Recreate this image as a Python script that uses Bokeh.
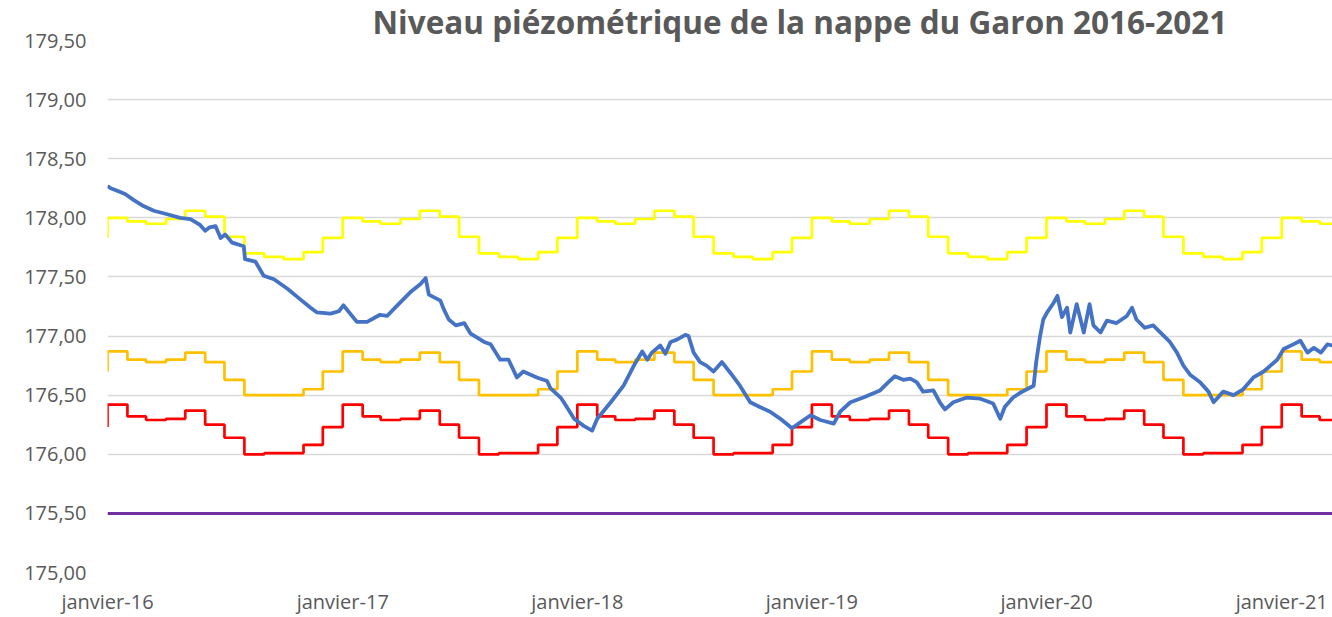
import pandas as pd
from bokeh.plotting import figure
from bokeh.models import (Range1d, FixedTicker, CustomJSTickFormatter, Span, Title,
                          ColumnDataSource)
from bokeh.embed import file_html
from bokeh.resources import INLINE

# ---------------- data ----------------
title_text = "Niveau piézométrique de la nappe du Garon 2016-2021"

x_tick_dates = ["2016-01-01", "2017-01-01", "2018-01-01", "2019-01-01", "2020-01-01", "2021-01-01"]
x_tick_labels = ["janvier-16", "janvier-17", "janvier-18", "janvier-19", "janvier-20", "janvier-21"]
y_ticks = [175.0, 175.5, 176.0, 176.5, 177.0, 177.5, 178.0, 178.5, 179.0, 179.5]

# monthly threshold levels (janvier .. décembre), repeated every year
yellow_monthly = [178.00, 177.97, 177.95, 177.99, 178.06, 178.01, 177.84, 177.70, 177.67, 177.65, 177.71, 177.83]
orange_monthly = [176.87, 176.80, 176.78, 176.80, 176.86, 176.78, 176.63, 176.50, 176.50, 176.50, 176.55, 176.70]
red_monthly = [176.42, 176.32, 176.29, 176.30, 176.37, 176.25, 176.14, 176.00, 176.01, 176.01, 176.08, 176.23]
purple_level = 175.50

series_start = "2016-01-01"
series_end = "2021-03-21"

blue_dates = [
    "2016-01-01", "2016-01-06", "2016-01-11", "2016-01-20", "2016-01-29", "2016-02-11", "2016-02-26",
    "2016-03-13", "2016-04-03", "2016-04-23", "2016-05-09", "2016-05-24", "2016-06-01", "2016-06-08",
    "2016-06-17", "2016-06-25", "2016-07-02", "2016-07-13", "2016-07-31", "2016-08-02", "2016-08-18",
    "2016-08-31", "2016-09-16", "2016-10-07", "2016-10-27", "2016-11-12", "2016-11-22", "2016-12-13",
    "2016-12-26", "2017-01-02", "2017-01-23", "2017-02-08", "2017-02-28", "2017-03-11", "2017-03-27",
    "2017-04-16", "2017-05-02", "2017-05-10", "2017-05-15", "2017-06-02", "2017-06-07", "2017-06-15",
    "2017-06-26", "2017-07-09", "2017-07-19", "2017-08-09", "2017-08-19", "2017-09-03", "2017-09-16",
    "2017-09-29", "2017-10-09", "2017-10-30", "2017-11-15", "2017-11-20", "2017-12-06", "2017-12-11",
    "2017-12-27", "2018-01-11", "2018-01-24", "2018-02-01", "2018-02-22", "2018-03-14", "2018-03-30",
    "2018-04-12", "2018-04-20", "2018-04-27", "2018-05-10", "2018-05-18", "2018-05-26", "2018-06-05",
    "2018-06-18", "2018-06-23", "2018-07-01", "2018-07-11", "2018-07-21", "2018-08-01", "2018-08-14",
    "2018-08-27", "2018-09-11", "2018-09-27", "2018-10-12", "2018-10-28", "2018-11-13", "2018-12-01",
    "2018-12-14", "2018-12-30", "2019-01-14", "2019-02-04", "2019-02-14", "2019-03-02", "2019-03-22",
    "2019-04-17", "2019-05-02", "2019-05-10", "2019-05-23", "2019-06-03", "2019-06-13", "2019-06-23",
    "2019-07-09", "2019-07-19", "2019-07-27", "2019-08-09", "2019-08-30", "2019-09-20", "2019-10-10",
    "2019-10-21", "2019-10-28", "2019-11-10", "2019-11-21", "2019-12-12", "2019-12-16", "2019-12-22",
    "2019-12-27", "2020-01-02", "2020-01-12", "2020-01-18", "2020-01-25", "2020-02-02", "2020-02-07",
    "2020-02-17", "2020-02-28", "2020-03-08", "2020-03-14", "2020-03-25", "2020-04-04", "2020-04-19",
    "2020-05-05", "2020-05-13", "2020-05-20", "2020-06-02", "2020-06-15", "2020-06-28", "2020-07-11",
    "2020-07-22", "2020-08-01", "2020-08-12", "2020-08-27", "2020-09-09", "2020-09-17", "2020-10-02",
    "2020-10-18", "2020-11-02", "2020-11-18", "2020-12-04", "2020-12-25", "2021-01-04", "2021-01-19",
    "2021-01-30", "2021-02-10", "2021-02-20", "2021-03-03", "2021-03-13", "2021-03-21",
]
blue_values = [
    178.27, 178.25, 178.24, 178.22, 178.20, 178.15, 178.10,
    178.06, 178.03, 178.00, 177.99, 177.94, 177.89, 177.92,
    177.93, 177.83, 177.86, 177.79, 177.76, 177.65, 177.63,
    177.51, 177.48, 177.40, 177.31, 177.24, 177.20, 177.19,
    177.21, 177.26, 177.12, 177.12, 177.18, 177.17, 177.26,
    177.37, 177.44, 177.49, 177.35, 177.30, 177.23, 177.14,
    177.09, 177.11, 177.02, 176.95, 176.93, 176.80, 176.80,
    176.65, 176.70, 176.65, 176.62, 176.56, 176.48, 176.44,
    176.30, 176.24, 176.20, 176.30, 176.44, 176.58, 176.75,
    176.87, 176.80, 176.86, 176.92, 176.85, 176.95, 176.97,
    177.01, 177.00, 176.86, 176.78, 176.75, 176.70, 176.78,
    176.69, 176.58, 176.44, 176.40, 176.36, 176.30, 176.22,
    176.27, 176.33, 176.29, 176.26, 176.36, 176.44, 176.48,
    176.54, 176.62, 176.66, 176.63, 176.64, 176.61, 176.53,
    176.54, 176.44, 176.38, 176.44, 176.48, 176.47, 176.43,
    176.30, 176.40, 176.48, 176.52, 176.58, 176.78, 177.00,
    177.14, 177.20, 177.28, 177.34, 177.16, 177.24, 177.03,
    177.27, 177.03, 177.27, 177.09, 177.03, 177.13, 177.11,
    177.17, 177.24, 177.14, 177.07, 177.09, 177.02, 176.95,
    176.86, 176.75, 176.67, 176.61, 176.53, 176.44, 176.53,
    176.50, 176.55, 176.65, 176.70, 176.80, 176.89, 176.93,
    176.96, 176.86, 176.90, 176.86, 176.93, 176.92,
]

# ---------------- build ----------------
month_starts = pd.date_range(series_start, series_end, freq="MS")
end_ts = pd.Timestamp(series_end)


def step_xy(monthly):
    xs = [month_starts[0]]
    ys = [monthly[11]]
    for i, mstart in enumerate(month_starts):
        v = monthly[mstart.month - 1]
        nxt = month_starts[i + 1] if i + 1 < len(month_starts) else end_ts
        xs += [mstart, nxt]
        ys += [v, v]
    return xs, ys


def to_ms(d):
    return pd.Timestamp(d).value / 1e6


tick_ms = [to_ms(d) for d in x_tick_dates]

p = figure(width=1332, height=617, x_axis_type="datetime",
           output_backend="svg", toolbar_location=None,
           x_range=Range1d(to_ms(series_start), to_ms(series_end)),
           y_range=Range1d(175.0, 179.5),
           min_border_left=107, min_border_right=0, min_border_top=40, min_border_bottom=43)
p.outline_line_color = None
p.background_fill_color = "white"
p.border_fill_color = "white"

p.title = Title(text=title_text, align="left", offset=265, standoff=-5,
                text_font="Open Sans", text_font_style="bold", text_font_size="31.5px",
                text_color="#595959")

p.xgrid.grid_line_color = None
p.ygrid.grid_line_color = "#D9D9D9"
p.ygrid.grid_line_width = 1.3

p.yaxis.ticker = FixedTicker(ticks=y_ticks)
p.yaxis.formatter = CustomJSTickFormatter(code="return tick.toFixed(2).replace('.', ',');")
p.xaxis.ticker = FixedTicker(ticks=tick_ms)
p.xaxis.formatter = CustomJSTickFormatter(
    args=dict(lbls=x_tick_labels, tvals=tick_ms),
    code="const i = tvals.indexOf(tick); return i >= 0 ? lbls[i] : '';")

for ax in (p.xaxis[0], p.yaxis[0]):
    ax.axis_line_color = None
    ax.major_tick_line_color = None
    ax.minor_tick_line_color = None
    ax.major_tick_out = 0
    ax.major_tick_in = 0
    ax.major_label_text_font = "Open Sans"
    ax.major_label_text_font_size = "20px"
    ax.major_label_text_color = "#595959"
p.yaxis.major_label_standoff = 21
p.xaxis.major_label_standoff = 15

p.add_layout(Span(location=purple_level, dimension="width", line_color="#7030A0", line_width=3))

for monthly, col in ((yellow_monthly, "#FFFF00"), (orange_monthly, "#FFC000"), (red_monthly, "#FF0000")):
    xs, ys = step_xy(monthly)
    p.line(xs, ys, line_color=col, line_width=2.7)

src = ColumnDataSource(dict(x=pd.to_datetime(blue_dates), y=blue_values))
p.line("x", "y", source=src, line_color="#4472C4", line_width=3.8, line_join="round")

open("out.html", "w").write(file_html(p, INLINE))
